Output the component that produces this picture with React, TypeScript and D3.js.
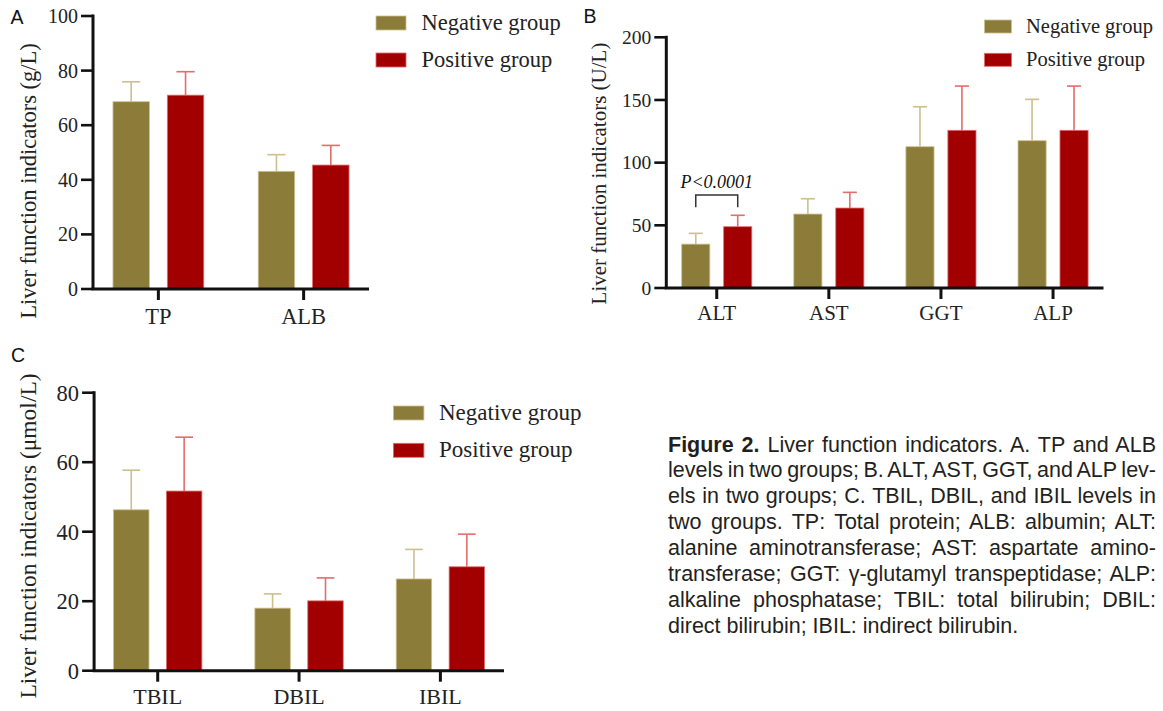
import React, { useEffect, useRef } from "react";
import * as d3 from "d3";

// ---------- data ----------
const seriesNames = ["Negative group", "Positive group"];

const aCategories = ["TP", "ALB"];
const aNegMean = [68.6, 43.1];
const aNegSD = [7.3, 6.1];
const aPosMean = [71.0, 45.4];
const aPosSD = [8.6, 7.2];
const aTicks = [0, 20, 40, 60, 80, 100];

const bCategories = ["ALT", "AST", "GGT", "ALP"];
const bNegMean = [35.0, 59.0, 112.7, 117.5];
const bNegSD = [8.6, 12.2, 31.9, 33.0];
const bPosMean = [48.9, 63.8, 125.8, 125.8];
const bPosSD = [9.1, 12.5, 35.3, 35.3];
const bTicks = [0, 50, 100, 150, 200];
const bBracket = { category: "ALT", top: 74.2, leg: 64.4, label: "P<0.0001" };

const cCategories = ["TBIL", "DBIL", "IBIL"];
const cNegMean = [46.3, 18.0, 26.4];
const cNegSD = [11.4, 4.1, 8.5];
const cPosMean = [51.7, 20.1, 29.9];
const cPosSD = [15.5, 6.6, 9.4];
const cTicks = [0, 20, 40, 60, 80];

const captionBold = "Figure 2.";
const captionLines = [
  " Liver function indicators. A. TP and ALB",
  "levels in two groups; B. ALT, AST, GGT, and ALP lev-",
  "els in two groups; C. TBIL, DBIL, and IBIL levels in",
  "two groups. TP: Total protein; ALB: albumin; ALT:",
  "alanine aminotransferase; AST: aspartate amino-",
  "transferase; GGT: \u03b3-glutamyl transpeptidase; ALP:",
  "alkaline phosphatase; TBIL: total bilirubin; DBIL:",
  "direct bilirubin; IBIL: indirect bilirubin.",
];

// ---------- style ----------
const NEG_FILL = "#8b7c3a";
const NEG_LINE = "#cdbf8e";
const POS_FILL = "#a20000";
const POS_LINE = "#e36c6c";
const AXIS = "#111";
const SERIF = "'Liberation Serif', 'Times New Roman', serif";
const SANS = "'Liberation Sans', Arial, sans-serif";

type Layout = {
  axisX: number;
  xEnd: number;
  yTop: number;
  yBottom: number;
  tickFont: number;
  catFont: number;
  catBaseline: number;
  labelFont: number;
  yLabel: string;
  yLabelX: number;
  yLabelY: number;
  legendSwX: number;
  legendSwW: number;
  legendSwY: number[];
  legendSwH: number;
  legendTextX: number;
  legendBaselines: number[];
  legendFont: number;
  letter: string;
  letterX: number;
  letterY: number;
};

type PanelProps = {
  categories: string[];
  negMean: number[];
  negSD: number[];
  posMean: number[];
  posSD: number[];
  ticks: number[];
  layout: Layout;
  bracket?: { category: string; top: number; leg: number; label: string };
};

function Panel({ categories, negMean, negSD, posMean, posSD, ticks, layout: L, bracket }: PanelProps) {
  const yMax = ticks[ticks.length - 1];
  const y = d3.scaleLinear().domain([0, yMax]).range([L.yBottom, L.yTop]);
  const x = d3.scalePoint<string>().domain(categories).range([L.axisX, L.xEnd]).padding(0.45);
  const step = x.step();
  const span = step * 0.625;
  const inner = d3.scaleBand<string>().domain(["neg", "pos"]).range([-span / 2, span / 2]).paddingInner(0.33);
  const bw = inner.bandwidth();
  const series = [
    { key: "neg", mean: negMean, sd: negSD, fill: NEG_FILL, line: NEG_LINE },
    { key: "pos", mean: posMean, sd: posSD, fill: POS_FILL, line: POS_LINE },
  ];
  return (
    <g>
      <text x={L.letterX} y={L.letterY} fontFamily={SANS} fontSize={19.5} fill="#111">
        {L.letter}
      </text>
      {series.map((s) =>
        categories.map((c, i) => {
          const x0 = (x(c) as number) + (inner(s.key) as number);
          const cx = x0 + bw / 2;
          const top = y(s.mean[i]);
          const errTop = y(s.mean[i] + s.sd[i]);
          return (
            <g key={s.key + c}>
              <line x1={cx} x2={cx} y1={top} y2={errTop} stroke={s.line} strokeWidth={1.6} />
              <line x1={cx - bw * 0.25} x2={cx + bw * 0.25} y1={errTop} y2={errTop} stroke={s.line} strokeWidth={1.6} />
              <rect x={x0} y={top} width={bw} height={L.yBottom - top} fill={s.fill} stroke={s.line} strokeWidth={0.8} />
            </g>
          );
        })
      )}
      <line x1={L.axisX} x2={L.axisX} y1={L.yTop - 1.5} y2={L.yBottom} stroke={AXIS} strokeWidth={3} />
      {ticks.map((t) => (
        <g key={"t" + t}>
          <line x1={L.axisX - 12} x2={L.axisX} y1={y(t)} y2={y(t)} stroke={AXIS} strokeWidth={2.6} />
          <text
            x={L.axisX - 15}
            y={y(t)}
            dy="0.35em"
            textAnchor="end"
            fontFamily={SERIF}
            fontSize={L.tickFont}
            fill="#222"
          >
            {t}
          </text>
        </g>
      ))}
      <line x1={L.axisX - 1.5} x2={L.xEnd} y1={L.yBottom} y2={L.yBottom} stroke={AXIS} strokeWidth={3} />
      {categories.map((c) => (
        <g key={"c" + c}>
          <line x1={x(c)} x2={x(c)} y1={L.yBottom} y2={L.yBottom + 11} stroke={AXIS} strokeWidth={3} />
          <text x={x(c)} y={L.catBaseline} textAnchor="middle" fontFamily={SERIF} fontSize={L.catFont} fill="#222">
            {c}
          </text>
        </g>
      ))}
      <text
        transform={`translate(${L.yLabelX},${L.yLabelY}) rotate(-90)`}
        textAnchor="middle"
        fontFamily={SERIF}
        fontSize={L.labelFont}
        fill="#222"
      >
        {L.yLabel}
      </text>
      {seriesNames.map((n, i) => (
        <g key={n}>
          <rect
            x={L.legendSwX}
            y={L.legendSwY[i]}
            width={L.legendSwW}
            height={L.legendSwH}
            fill={i === 0 ? NEG_FILL : POS_FILL}
            stroke={i === 0 ? NEG_LINE : POS_LINE}
            strokeWidth={0.8}
          />
          <text x={L.legendTextX} y={L.legendBaselines[i]} fontFamily={SERIF} fontSize={L.legendFont} fill="#222">
            {n}
          </text>
        </g>
      ))}
      {bracket && (() => {
        const xl = (x(bracket.category) as number) + (inner("neg") as number) + bw / 2;
        const xr = (x(bracket.category) as number) + (inner("pos") as number) + bw / 2;
        const yt = y(bracket.top);
        const yl = y(bracket.leg);
        return (
          <g>
            <path d={`M${xl},${yl}V${yt}H${xr}V${yl}`} fill="none" stroke="#333" strokeWidth={1.5} />
            <text
              x={(xl + xr) / 2}
              y={yt - 7}
              textAnchor="middle"
              fontFamily={SERIF}
              fontStyle="italic"
              fontSize={18}
              fill="#111"
            >
              {bracket.label}
            </text>
          </g>
        );
      })()}
    </g>
  );
}

const layoutA: Layout = {
  axisX: 93,
  xEnd: 369,
  yTop: 16,
  yBottom: 289,
  tickFont: 20,
  catFont: 22.5,
  catBaseline: 324,
  labelFont: 22.5,
  yLabel: "Liver function indicators (g/L)",
  yLabelX: 36,
  yLabelY: 181,
  legendSwX: 376,
  legendSwW: 30,
  legendSwY: [16, 53],
  legendSwH: 14,
  legendTextX: 421.5,
  legendBaselines: [29.5, 66.5],
  legendFont: 22.5,
  letter: "A",
  letterX: 10.5,
  letterY: 24,
};

const layoutB: Layout = {
  axisX: 666.3,
  xEnd: 1103.5,
  yTop: 37.3,
  yBottom: 288,
  tickFont: 19.5,
  catFont: 21,
  catBaseline: 320,
  labelFont: 21,
  yLabel: "Liver function indicators (U/L)",
  yLabelX: 605.5,
  yLabelY: 173.5,
  legendSwX: 984.5,
  legendSwW: 27,
  legendSwY: [20, 53.3],
  legendSwH: 13,
  legendTextX: 1026,
  legendBaselines: [32.7, 66],
  legendFont: 20.5,
  letter: "B",
  letterX: 583.5,
  letterY: 23.3,
};

const layoutC: Layout = {
  axisX: 94.1,
  xEnd: 504,
  yTop: 392.7,
  yBottom: 670.7,
  tickFont: 22.5,
  catFont: 22,
  catBaseline: 704.3,
  labelFont: 23.5,
  yLabel: "Liver function indicators (\u03bcmol/L)",
  yLabelX: 35.5,
  yLabelY: 536,
  legendSwX: 393.4,
  legendSwW: 30.5,
  legendSwY: [406, 443.3],
  legendSwH: 14,
  legendTextX: 439,
  legendBaselines: [420, 456.7],
  legendFont: 23,
  letter: "C",
  letterX: 11,
  letterY: 361.7,
};

const CAP_LEFT = 668;
const CAP_RIGHT = 1156;
const CAP_BASE = 451.5;
const CAP_LH = 25.9;
const CAP_FONT = 21.5;

function Caption() {
  const ref = useRef<SVGGElement>(null);
  useEffect(() => {
    const g = d3.select(ref.current);
    g.selectAll("*").remove();
    captionLines.forEach((line, i) => {
      const t = g
        .append("text")
        .attr("x", CAP_LEFT)
        .attr("y", CAP_BASE + i * CAP_LH)
        .attr("font-family", SANS)
        .attr("font-size", CAP_FONT)
        .attr("fill", "#231f20");
      if (i === 0) {
        t.append("tspan").attr("font-weight", "bold").text(captionBold);
        t.append("tspan").text(line);
      } else {
        t.text(line);
      }
      if (i < captionLines.length - 1) {
        const node = t.node() as SVGTextElement;
        const natural = node.getComputedTextLength();
        const full = (i === 0 ? captionBold : "") + line;
        const spaces = (full.match(/ /g) || []).length;
        const target = CAP_RIGHT - CAP_LEFT;
        if (spaces > 0) {
          const ws = (target - natural) / spaces;
          t.attr("word-spacing", ws);
          const after = node.getComputedTextLength();
          if (Math.abs(after - target) > 3) {
            t.attr("word-spacing", null);
            t.attr("textLength", target).attr("lengthAdjust", "spacing");
          }
        }
      }
    });
  }, []);
  return <g ref={ref} />;
}

export default function App() {
  return (
    <svg
      width={1163}
      height={711}
      viewBox="0 0 1163 711"
      style={{ position: "absolute", left: 0, top: 0, display: "block", background: "#fff" }}
    >
      <rect width={1163} height={711} fill="#fff" />
      <Panel
        categories={aCategories}
        negMean={aNegMean}
        negSD={aNegSD}
        posMean={aPosMean}
        posSD={aPosSD}
        ticks={aTicks}
        layout={layoutA}
      />
      <Panel
        categories={bCategories}
        negMean={bNegMean}
        negSD={bNegSD}
        posMean={bPosMean}
        posSD={bPosSD}
        ticks={bTicks}
        layout={layoutB}
        bracket={bBracket}
      />
      <Panel
        categories={cCategories}
        negMean={cNegMean}
        negSD={cNegSD}
        posMean={cPosMean}
        posSD={cPosSD}
        ticks={cTicks}
        layout={layoutC}
      />
      <Caption />
    </svg>
  );
}
